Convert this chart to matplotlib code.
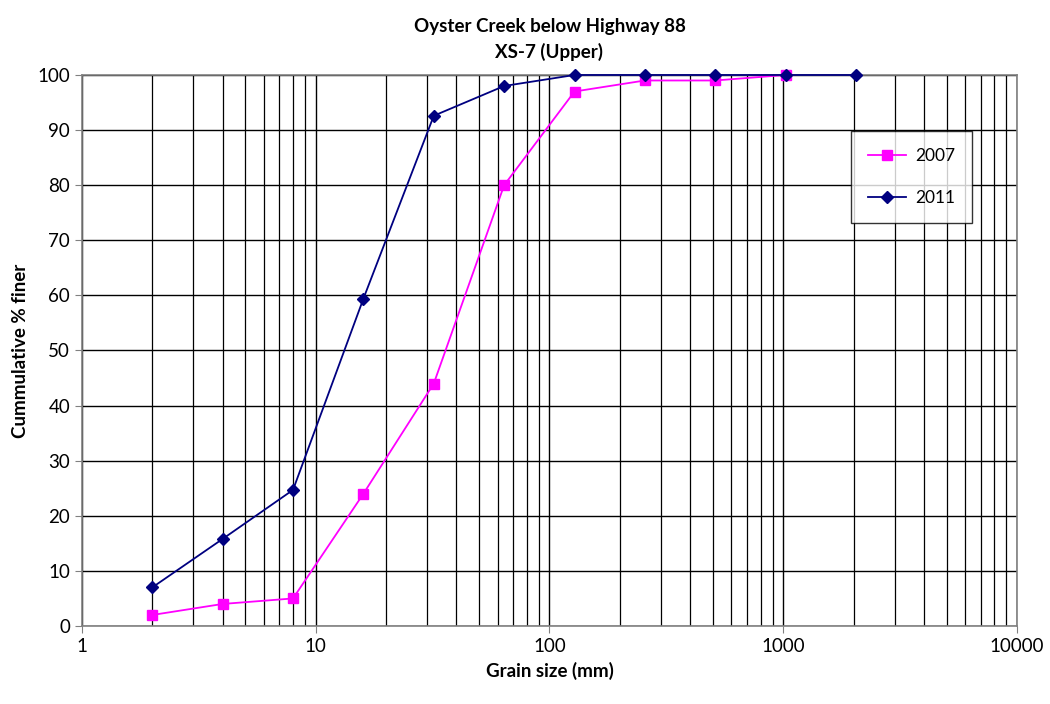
import numpy as np
import matplotlib
matplotlib.use('Agg')
import matplotlib.pyplot as plt
from matplotlib.ticker import LogLocator, NullFormatter, FixedLocator

plt.rcParams['font.family'] = ['Lato', 'DejaVu Sans']

# grain size classes (mm) and cumulative % finer
size_2007 = [2, 4, 8, 16, 32, 64, 128, 256, 512, 1024]
finer_2007 = [2, 4, 5, 24, 44, 80, 97, 99, 99, 100]
size_2011 = [2, 4, 8, 16, 32, 64, 128, 256, 512, 1024, 2048]
finer_2011 = [7, 15.8, 24.7, 59.4, 92.6, 98, 100, 100, 100, 100, 100]

x_ticks = [1, 10, 100, 1000, 10000]
x_labels = ['1', '10', '100', '1000', '10000']

fig = plt.figure(figsize=(10.5, 7.04), dpi=100)
ax = fig.add_axes([0.078, 0.1108, 0.8906, 0.7827])

ax.plot(size_2007, finer_2007, color='#ff00ff', marker='s', markersize=7.5,
        linewidth=1.3, label='2007', zorder=3, clip_on=False)
ax.plot(size_2011, finer_2011, color='#000080', marker='D', markersize=6.5,
        linewidth=1.3, label='2011', zorder=4, clip_on=False)

ax.set_xscale('log')
ax.set_xlim(1, 10000)
ax.set_ylim(0, 100)
ax.xaxis.set_major_locator(FixedLocator(x_ticks))
ax.set_xticklabels(x_labels)
ax.xaxis.set_minor_locator(LogLocator(base=10, subs=np.arange(2, 10)))
ax.xaxis.set_minor_formatter(NullFormatter())
ax.set_yticks(np.arange(0, 101, 10))

ax.grid(True, which='major', color='black', linewidth=1.0)
ax.grid(True, which='minor', axis='x', color='black', linewidth=0.9)
ax.set_axisbelow(True)
ax.tick_params(which='minor', length=0)
ax.tick_params(which='major', length=5, labelsize=13.5, color='#808080')

for spine in ax.spines.values():
    spine.set_color('#808080')
    spine.set_linewidth(1.2)

ax.set_xlabel('Grain size (mm)', fontsize=13.5, fontweight='bold', labelpad=5)
ax.set_ylabel('Cummulative % finer', fontsize=13.5, fontweight='bold', labelpad=6)
ax.set_title('Oyster Creek below Highway 88\nXS-7 (Upper)', fontsize=13.5,
             fontweight='bold', pad=12, linespacing=1.55)

leg = ax.legend(loc='upper left', bbox_to_anchor=(0.822, 0.899), fontsize=12.5,
                frameon=True, fancybox=False, edgecolor='black',
                borderpad=1.0, labelspacing=1.5, handlelength=2.2,
                handletextpad=0.5, borderaxespad=0)
leg.get_frame().set_linewidth(1.0)

fig.savefig('out.png', dpi=100)
